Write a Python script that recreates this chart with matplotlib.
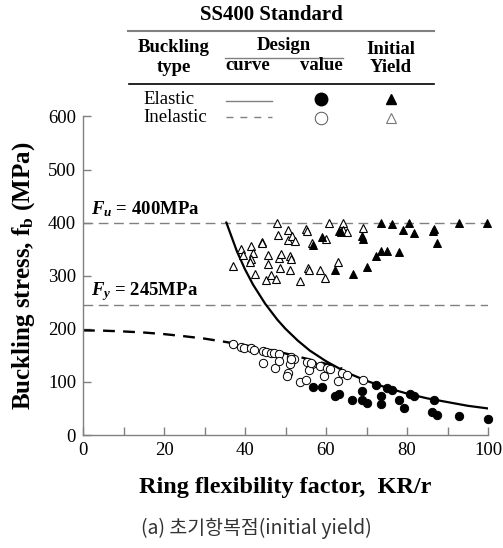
import matplotlib
matplotlib.use('Agg')
import numpy as np
from matplotlib import pyplot as plt
from matplotlib.lines import Line2D

plt.rcParams['font.family'] = ['Liberation Serif', 'DejaVu Serif']
plt.rcParams['mathtext.fontset'] = 'custom'
plt.rcParams['mathtext.rm'] = 'Liberation Serif:bold'
plt.rcParams['mathtext.it'] = 'Liberation Serif:bold:italic'
plt.rcParams['mathtext.bf'] = 'Liberation Serif:bold'

SERIF = 'Liberation Serif'

# design curves (elastic / inelastic)
elastic_x = [35.4, 38, 40, 42, 45, 48, 50, 53, 56, 60, 65, 70, 75, 80, 85, 90, 95, 100]
elastic_y = [400, 346, 312, 283, 247, 217, 200, 178, 159, 139, 118, 102, 89, 78, 69, 62, 55, 50]
inelastic_x = [0, 5, 10, 15, 20, 25, 30, 35, 40, 45, 50, 55, 60, 64]
inelastic_y = [197, 196.5, 195, 193, 190, 186, 181.5, 175.5, 169, 162, 153.5, 144, 134, 125]

# design values
el_val_x = [56.7, 58.9, 62.1, 63.2, 66.5, 68.8, 69.0, 70.2, 72.3, 73.7, 73.7, 75.0, 76.2, 78.0,
            79.3, 80.7, 81.8, 86.7, 86.1, 87.3, 92.8, 99.9]
el_val_y = [90, 90, 74, 78, 66, 83, 66, 60, 95, 74, 58, 89, 85, 66,
            50, 77, 74, 66, 44, 38, 36, 31]
inel_val_x = [37.0, 39.0, 39.8, 41.6, 42.1, 44.5, 45.3, 46.3, 47.2, 48.4, 51.3, 52.1, 55.2, 56.6,
              58.4, 60.2, 61.0, 63.9, 65.1, 69.1, 44.4, 47.4, 48.5, 51.1, 50.7, 50.4, 53.7, 55.0,
              55.9, 59.6, 63.0, 51.4, 56.3]
inel_val_y = [171, 166, 164, 163, 161, 158, 156, 155, 154, 152, 146, 143, 137, 133,
              130, 126, 124, 116, 113, 104, 136, 127, 139, 133, 117, 112, 100, 104,
              122, 111, 102, 143, 135]

# initial yield
el_yld_x = [56.7, 59.1, 63.2, 63.7, 68.8, 69.1, 62.2, 66.6, 70.2, 72.3, 73.7, 75.0, 78.1, 73.7,
            76.2, 80.6, 79.1, 81.8, 86.3, 86.7, 87.3, 92.8, 99.8]
el_yld_y = [358, 372, 384, 383, 374, 369, 310, 303, 316, 338, 347, 347, 345, 400,
            398, 400, 386, 381, 384, 388, 361, 400, 400]
inel_yld_x = [37.0, 39.0, 39.6, 41.5, 42.0, 41.4, 41.2, 42.5, 44.3, 44.1, 45.8, 45.6, 45.3, 46.3,
              47.6, 47.8, 48.2, 48.5, 48.9, 48.6, 50.7, 50.5, 51.5, 52.3, 51.1, 51.3, 51.1, 53.7,
              55.1, 55.2, 56.6, 55.6, 55.9, 58.5, 59.8, 59.9, 60.8, 63.0, 64.1, 64.3, 65.3, 69.1]
inel_yld_y = [318, 350, 339, 355, 342, 331, 326, 303, 364, 361, 339, 322, 292, 301,
              294, 399, 377, 334, 341, 314, 386, 367, 375, 366, 337, 331, 311, 290,
              388, 385, 362, 315, 311, 311, 295, 369, 399, 326, 399, 386, 383, 390]

Fu, Fy = 400, 245

W, H = 503, 548
fig = plt.figure(figsize=(W / 100, H / 100), dpi=100)
ax = fig.add_axes([83 / W, 1 - 435 / H, 405 / W, 318.6 / H])


def fx(px):
    return px / W


def fy(py):
    return 1 - py / H


gray = '#808080'
ax.axhline(Fu, color=gray, lw=1.0, dashes=(7, 4), zorder=1)
ax.axhline(Fy, color=gray, lw=1.0, dashes=(7, 4), zorder=1)
ax.plot(inelastic_x, inelastic_y, color='black', lw=1.7, dashes=(5, 3.5), zorder=2)
ax.plot(elastic_x, elastic_y, color='black', lw=1.6, zorder=2)

ax.plot(inel_val_x, inel_val_y, 'o', ms=6, mfc='white', mec='black', mew=0.7, zorder=3)
ax.plot(el_val_x, el_val_y, 'o', ms=6, mfc='black', mec='black', mew=0.7, zorder=3, clip_on=False)
ax.plot(inel_yld_x, inel_yld_y, '^', ms=5.5, mfc='white', mec='black', mew=0.8, zorder=3)
ax.plot(el_yld_x, el_yld_y, '^', ms=5.5, mfc='black', mec='black', mew=0.7, zorder=3, clip_on=False)

ax.text(2, 425, r'$F_u$ = 400MPa', fontsize=13.5, fontweight='bold', va='center', family=SERIF)
ax.text(2, 270, r'$F_y$ = 245MPa', fontsize=13.5, fontweight='bold', va='center', family=SERIF)

ax.set_xlim(0, 100)
ax.set_ylim(0, 600)
ax.set_xticks(np.arange(0, 101, 20))
ax.set_xticks(np.arange(10, 100, 20), minor=True)
ax.set_yticks(np.arange(0, 601, 100))
for s in ['top', 'right']:
    ax.spines[s].set_visible(False)
for s in ['left', 'bottom']:
    ax.spines[s].set_color(gray)
    ax.spines[s].set_linewidth(1.0)
ax.tick_params(which='both', direction='in', length=6, width=1.0, color=gray,
               labelsize=13.5)
ax.tick_params(axis='x', pad=5)
ax.tick_params(axis='y', pad=5)
for lbl in ax.get_xticklabels() + ax.get_yticklabels():
    lbl.set_family(SERIF)

ax.set_xlabel('Ring flexibility factor,  KR/r', fontsize=17.5, fontweight='bold', family=SERIF)
ax.set_ylabel(r'Buckling stress, f$_\mathrm{b}$ (MPa)', fontsize=18, fontweight='bold', family=SERIF)
ax.xaxis.set_label_coords(0.5, -0.132)
ax.yaxis.set_label_coords(-0.1136, 0.5)

# legend table
fig.text(fx(271), fy(15), 'SS400 Standard', ha='center', va='center', fontsize=15,
         fontweight='bold', family=SERIF)
fig.add_artist(Line2D([fx(128), fx(434)], [fy(31), fy(31)], color=gray, lw=1.5))
fig.add_artist(Line2D([fx(129), fx(434)], [fy(84), fy(84)], color='black', lw=1.2))
fig.add_artist(Line2D([fx(225), fx(343)], [fy(57.5), fy(57.5)], color=gray, lw=1.0))
hdr = dict(ha='center', va='center', fontsize=13.5, fontweight='bold', family=SERIF)
fig.text(fx(174), fy(47), 'Buckling', **hdr)
fig.text(fx(174), fy(67), 'type', **hdr)
fig.text(fx(284), fy(46), 'Design', **hdr)
fig.text(fx(248), fy(66), 'curve', **hdr)
fig.text(fx(321), fy(66), 'value', **hdr)
fig.text(fx(391), fy(49), 'Initial', **hdr)
fig.text(fx(391), fy(68), 'Yield', **hdr)
fig.text(fx(143), fy(99), 'Elastic', ha='left', va='center', fontsize=13.5, family=SERIF)
fig.text(fx(143), fy(118), 'Inelastic', ha='left', va='center', fontsize=13.5, family=SERIF)
fig.add_artist(Line2D([fx(226), fx(272)], [fy(101), fy(101)], color=gray, lw=1.0))
fig.add_artist(Line2D([fx(226), fx(272)], [fy(117), fy(117)], color=gray, lw=1.0, dashes=(5, 5)))
fig.add_artist(Line2D([fx(321)], [fy(99)], marker='o', ms=9, mfc='black', mec='black'))
fig.add_artist(Line2D([fx(321)], [fy(118)], marker='o', ms=9, mfc='white', mec='#555555', mew=0.7))
fig.add_artist(Line2D([fx(391)], [fy(99)], marker='^', ms=7, mfc='black', mec='black'))
fig.add_artist(Line2D([fx(391)], [fy(118)], marker='^', ms=7, mfc='white', mec='#777777', mew=0.8))

fig.text(fx(256), fy(528), '(a) 초기항복점(initial yield)', ha='center', va='center', fontsize=14,
         family=['Noto Sans CJK KR', 'DejaVu Sans'], color='#333333')

fig.savefig('out.png', dpi=100)
